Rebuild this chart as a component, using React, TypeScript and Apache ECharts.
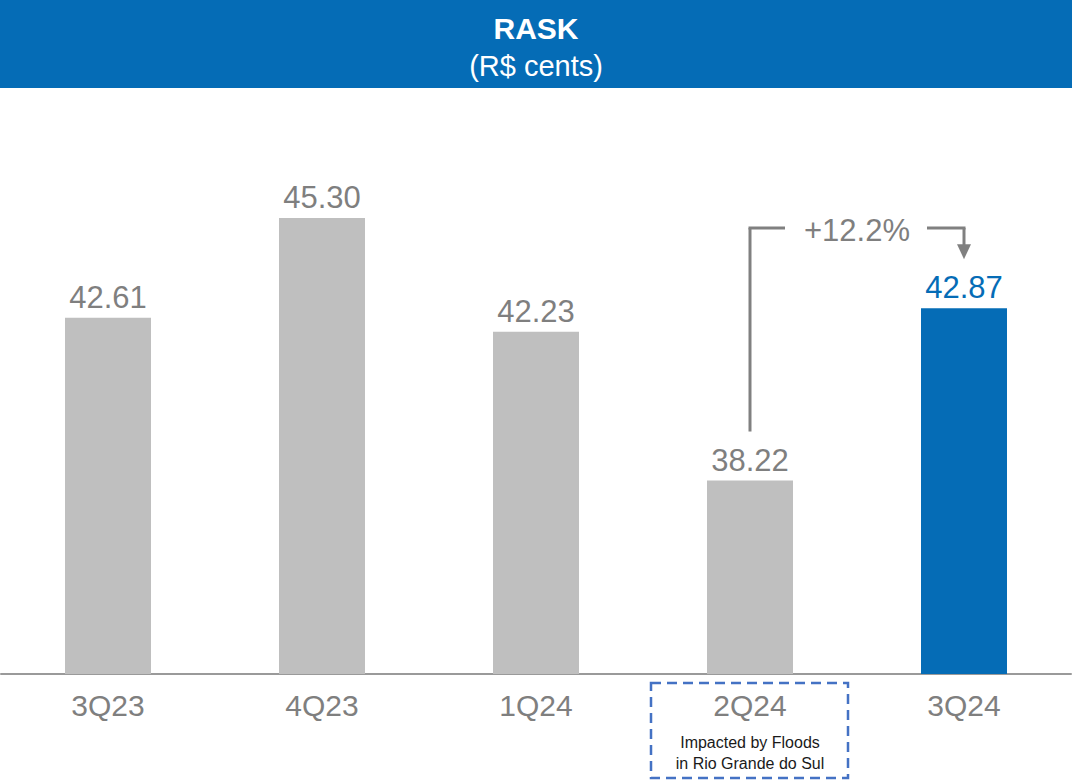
import { useEffect, useRef } from "react";
import * as echarts from "echarts";

const categories = ["3Q23", "4Q23", "1Q24", "2Q24", "3Q24"];
const values = [42.61, 45.3, 42.23, 38.22, 42.87];
const highlightIndex = 4;
const fromIndex = 3;
const changeLabel = "+12.2%";
const titleText = "RASK";
const subtitleText = "(R$ cents)";
const noteIndex = 3;
const noteLines = ["Impacted by Floods", "in Rio Grande do Sul"];

const FONT = "'Liberation Sans', Arial, sans-serif";
const BLUE = "#056CB6";
const GRAY_BAR = "#BFBFBF";
const GRAY_TEXT = "#7F7F7F";
const LINE_GRAY = "#808080";

export default function App() {
  const ref = useRef<HTMLDivElement>(null);
  useEffect(() => {
    document.body.style.margin = "0";
    const chart = echarts.init(ref.current!, null, { renderer: "svg" });
    const option: any = {
      animation: false,
      grid: { left: 1, right: 5, top: 118, bottom: 108, containLabel: false },
      xAxis: {
        type: "category",
        data: categories,
        axisLine: { lineStyle: { color: "#9A9A9A", width: 2 } },
        axisTick: { show: false },
        axisLabel: { color: GRAY_TEXT, fontSize: 30, fontFamily: FONT, margin: 16 },
      },
      yAxis: {
        type: "value",
        min: 33,
        max: 48,
        show: false,
        splitLine: { show: false },
      },
      series: [
        {
          type: "bar",
          barWidth: 86,
          data: values.map((v, i) => ({
            value: v,
            itemStyle: { color: i === highlightIndex ? BLUE : GRAY_BAR },
            label: { color: i === highlightIndex ? BLUE : GRAY_TEXT },
          })),
          label: {
            show: true,
            position: "top",
            distance: 5,
            fontSize: 31,
            fontFamily: FONT,
            formatter: (p: any) => Number(p.value).toFixed(2),
          },
        },
      ],
    };
    chart.setOption(option);

    const p2 = chart.convertToPixel({ seriesIndex: 0 }, [fromIndex, values[fromIndex]]) as number[];
    const p4 = chart.convertToPixel({ seriesIndex: 0 }, [highlightIndex, values[highlightIndex]]) as number[];
    const pn = chart.convertToPixel({ seriesIndex: 0 }, [noteIndex, 33]) as number[];
    const hy = 228;
    const mid = (p2[0] + p4[0]) / 2;
    const lineStyle = { stroke: LINE_GRAY, lineWidth: 3 };

    chart.setOption({
      graphic: [
        { type: "rect", shape: { x: 0, y: 0, width: 1072, height: 88 }, style: { fill: BLUE } },
        {
          type: "text",
          x: 536,
          y: 28,
          style: { text: titleText, fill: "#fff", font: `bold 30px ${FONT}`, align: "center", verticalAlign: "middle" },
        },
        {
          type: "text",
          x: 536,
          y: 66,
          style: { text: subtitleText, fill: "#fff", font: `29px ${FONT}`, align: "center", verticalAlign: "middle" },
        },
        { type: "line", shape: { x1: p2[0], y1: p2[1] - 49, x2: p2[0], y2: hy }, style: lineStyle },
        { type: "line", shape: { x1: p2[0] - 1.5, y1: hy, x2: p2[0] + 35, y2: hy }, style: lineStyle },
        { type: "line", shape: { x1: p4[0] - 37, y1: hy, x2: p4[0] + 1.5, y2: hy }, style: lineStyle },
        { type: "line", shape: { x1: p4[0], y1: hy, x2: p4[0], y2: p4[1] - 62 }, style: lineStyle },
        {
          type: "polygon",
          shape: { points: [[p4[0] - 7, p4[1] - 64], [p4[0] + 7, p4[1] - 64], [p4[0], p4[1] - 49]] },
          style: { fill: LINE_GRAY },
        },
        {
          type: "text",
          x: mid,
          y: hy + 2,
          style: { text: changeLabel, fill: GRAY_TEXT, font: `31px ${FONT}`, align: "center", verticalAlign: "middle" },
        },
        {
          type: "rect",
          shape: { x: pn[0] - 99, y: pn[1] + 9, width: 197, height: 95 },
          style: { fill: "none", stroke: "#4472C4", lineWidth: 2.5, lineDash: [10, 6] },
        },
        {
          type: "text",
          x: pn[0],
          y: pn[1] + 68,
          style: { text: noteLines[0], fill: "#1A1A1A", font: `16px ${FONT}`, align: "center", verticalAlign: "middle" },
        },
        {
          type: "text",
          x: pn[0],
          y: pn[1] + 89,
          style: { text: noteLines[1], fill: "#1A1A1A", font: `16px ${FONT}`, align: "center", verticalAlign: "middle" },
        },
      ],
    });
    return () => chart.dispose();
  }, []);
  return <div ref={ref} style={{ width: 1076, height: 782 }} />;
}
